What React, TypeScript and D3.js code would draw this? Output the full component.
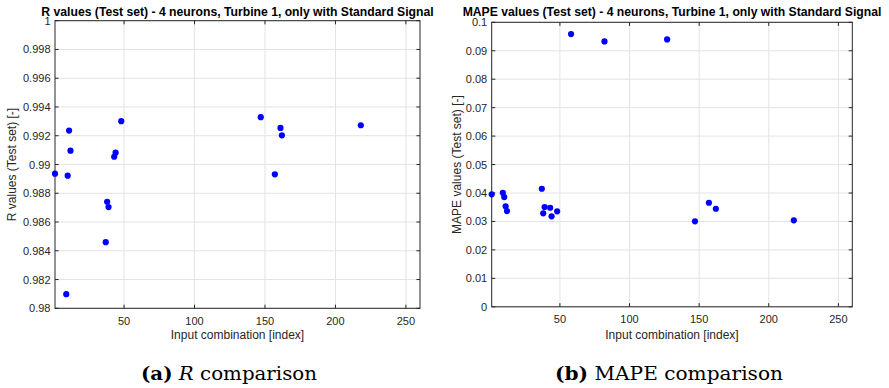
import React from "react";
import * as d3 from "d3";

const xTicks = [50, 100, 150, 200, 250];

const rIndex = [1, 9, 10, 11, 12, 37, 38, 39, 43, 44, 48, 147, 157, 161, 162, 218];
const rValues = [
  0.98936, 0.98098, 0.98922, 0.99236, 0.99096, 0.9846, 0.98741, 0.98704, 0.99054, 0.99082,
  0.99301, 0.99329, 0.98932, 0.99254, 0.99203, 0.99273,
];
const rTicks = [0.98, 0.982, 0.984, 0.986, 0.988, 0.99, 0.992, 0.994, 0.996, 0.998, 1];
const rTickLabels = ["0.98", "0.982", "0.984", "0.986", "0.988", "0.99", "0.992", "0.994", "0.996", "0.998", "1"];

const mapeIndex = [1, 9, 10, 11, 12, 37, 38, 39, 43, 44, 48, 58, 82, 127, 147, 157, 162, 218];
const mapeValues = [
  0.03953, 0.04009, 0.03858, 0.03531, 0.03366, 0.0415, 0.03285, 0.03507, 0.03482, 0.0318,
  0.03356, 0.09585, 0.09329, 0.09399, 0.03004, 0.03658, 0.03447, 0.0304,
];
const mapeTicks = [0, 0.01, 0.02, 0.03, 0.04, 0.05, 0.06, 0.07, 0.08, 0.09, 0.1];
const mapeTickLabels = ["0", "0.01", "0.02", "0.03", "0.04", "0.05", "0.06", "0.07", "0.08", "0.09", "0.1"];

const AX = "#262626";
const GRID = "#e3e3e3";
const FONT = "'Liberation Sans', Arial, Helvetica, sans-serif";

type PanelProps = {
  left: number;
  right: number;
  top: number;
  bottom: number;
  xs: number[];
  ys: number[];
  yDomain: [number, number];
  yTicks: number[];
  yTickLabels: string[];
  title: string;
  yLabel: string;
  yLabelX: number;
};

function Panel(p: PanelProps) {
  const x = d3.scaleLinear().domain([1, 260]).range([p.left, p.right]);
  const y = d3.scaleLinear().domain(p.yDomain).range([p.bottom, p.top]);
  const tl = 3.6;
  const cx = (p.left + p.right) / 2;
  const cy = (p.top + p.bottom) / 2;
  return (
    <g>
      {/* grid */}
      {xTicks.map((t) => (
        <line key={"gx" + t} x1={x(t)} x2={x(t)} y1={p.top} y2={p.bottom} stroke={GRID} strokeWidth={1} />
      ))}
      {p.yTicks.map((t, i) => (
        <line key={"gy" + i} x1={p.left} x2={p.right} y1={y(t)} y2={y(t)} stroke={GRID} strokeWidth={1} />
      ))}
      {/* box */}
      <rect x={p.left} y={p.top} width={p.right - p.left} height={p.bottom - p.top} fill="none" stroke={AX} strokeWidth={1} />
      {/* ticks */}
      {xTicks.map((t) => (
        <g key={"tx" + t}>
          <line x1={x(t)} x2={x(t)} y1={p.bottom} y2={p.bottom - tl} stroke={AX} />
          <line x1={x(t)} x2={x(t)} y1={p.top} y2={p.top + tl} stroke={AX} />
          <text x={x(t)} y={p.bottom + 16.5} textAnchor="middle" fontSize={11} fill={AX} fontFamily={FONT}>
            {t}
          </text>
        </g>
      ))}
      {p.yTicks.map((t, i) => (
        <g key={"ty" + i}>
          <line x1={p.left} x2={p.left + tl} y1={y(t)} y2={y(t)} stroke={AX} />
          <line x1={p.right} x2={p.right - tl} y1={y(t)} y2={y(t)} stroke={AX} />
          <text x={p.left - 4.5} y={y(t) + 4} textAnchor="end" fontSize={11} fill={AX} fontFamily={FONT}>
            {p.yTickLabels[i]}
          </text>
        </g>
      ))}
      {/* points */}
      {p.xs.map((v, i) => (
        <circle key={"pt" + i} cx={x(v)} cy={y(p.ys[i])} r={3.1} fill="#0000ff" />
      ))}
      {/* title */}
      <text x={cx} y={15.5} textAnchor="middle" fontSize={12.2} fontWeight="bold" fill="#000" fontFamily={FONT}>
        {p.title}
      </text>
      {/* x label */}
      <text x={cx} y={339} textAnchor="middle" fontSize={12} fill={AX} fontFamily={FONT}>
        Input combination [index]
      </text>
      {/* y label */}
      <text
        transform={`translate(${p.yLabelX},${cy}) rotate(-90)`}
        textAnchor="middle"
        fontSize={12}
        fill={AX}
        fontFamily={FONT}
      >
        {p.yLabel}
      </text>
    </g>
  );
}

export default function App() {
  const serif = "'DejaVu Serif', 'Liberation Serif', serif";
  return (
    <svg
      width={889}
      height={388}
      viewBox="0 0 889 388"
      style={{ position: "absolute", left: 0, top: 0, background: "#fff" }}
    >
      <rect x={0} y={0} width={889} height={388} fill="#fff" />
      <Panel
        left={55}
        right={420}
        top={20.7}
        bottom={308.3}
        xs={rIndex}
        ys={rValues}
        yDomain={[0.98, 1]}
        yTicks={rTicks}
        yTickLabels={rTickLabels}
        title="R values (Test set) - 4 neurons, Turbine 1, only with Standard Signal"
        yLabel="R values (Test set) [-]"
        yLabelX={16}
      />
      <Panel
        left={491.7}
        right={852.3}
        top={22.3}
        bottom={306.8}
        xs={mapeIndex}
        ys={mapeValues}
        yDomain={[0, 0.1]}
        yTicks={mapeTicks}
        yTickLabels={mapeTickLabels}
        title="MAPE values (Test set) - 4 neurons, Turbine 1, only with Standard Signal"
        yLabel="MAPE values (Test set) [-]"
        yLabelX={460.5}
      />
      <text x={229} y={380} textAnchor="middle" fontSize={18} fontFamily={serif} fill="#000" textLength={176} lengthAdjust="spacingAndGlyphs">
        <tspan fontWeight="bold">(a)</tspan>
        {" "}
        <tspan fontStyle="italic">R</tspan>
        {" comparison"}
      </text>
      <text x={669} y={380} textAnchor="middle" fontSize={18} fontFamily={serif} fill="#000" textLength={228} lengthAdjust="spacingAndGlyphs">
        <tspan fontWeight="bold">(b)</tspan>
        {" MAPE comparison"}
      </text>
    </svg>
  );
}
